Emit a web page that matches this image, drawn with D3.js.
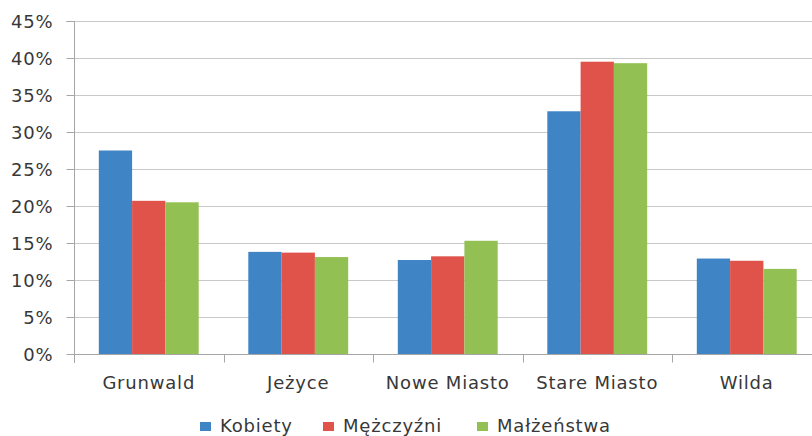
<!DOCTYPE html>
<html>
<head>
<meta charset="utf-8">
<script src="https://cdn.jsdelivr.net/npm/d3@7"></script>
<style>
  body { margin: 0; background: #fff; }
  text { font-family: "DejaVu Sans", sans-serif; fill: #383838; letter-spacing: 0.8px; }
</style>
</head>
<body>
<div id="chart"></div>
<script>
const districts = ["Grunwald", "Jeżyce", "Nowe Miasto", "Stare Miasto", "Wilda"];
const seriesNames = ["Kobiety", "Mężczyźni", "Małżeństwa"];
const kobiety = [27.5, 13.8, 12.7, 32.8, 12.9];
const mezczyzni = [20.7, 13.7, 13.2, 39.5, 12.6];
const malzenstwa = [20.5, 13.1, 15.3, 39.3, 11.5];
const yTicks = [0, 5, 10, 15, 20, 25, 30, 35, 40, 45];
const colors = ["#3f84c5", "#e0534b", "#93c053"];

const values = [kobiety, mezczyzni, malzenstwa];
const rows = districts.map((d, i) => ({
  district: d,
  vals: seriesNames.map((s, j) => ({ series: s, value: values[j][i] }))
}));

const width = 812, height = 436;
const svg = d3.select("#chart")
  .append("svg")
  .attr("width", width)
  .attr("height", height);

const plotLeft = 74, plotBottom = 354, plotTop = 21;
const step = 149.5;

const x0 = d3.scaleBand()
  .domain(districts)
  .range([plotLeft, plotLeft + step * districts.length])
  .paddingInner(0)
  .paddingOuter(0);

const x1 = d3.scaleBand()
  .domain(seriesNames)
  .range([0, x0.bandwidth()])
  .paddingInner(0)
  .paddingOuter(0.745);

const y = d3.scaleLinear()
  .domain([0, 45])
  .range([plotBottom, plotTop]);

// gridlines
svg.append("g")
  .selectAll("line")
  .data(yTicks.filter((t) => t > 0))
  .join("line")
  .attr("x1", plotLeft)
  .attr("x2", width)
  .attr("y1", (d) => y(d) + 0.5)
  .attr("y2", (d) => y(d) + 0.5)
  .attr("stroke", "#c9c9c9")
  .attr("stroke-width", 1.2);

// bars
svg.append("g")
  .selectAll("g")
  .data(rows)
  .join("g")
  .attr("transform", (d) => `translate(${x0(d.district)},0)`)
  .selectAll("rect")
  .data((d) => d.vals)
  .join("rect")
  .attr("x", (d) => x1(d.series))
  .attr("width", x1.bandwidth())
  .attr("y", (d) => y(d.value))
  .attr("height", (d) => y(0) - y(d.value))
  .attr("fill", (d, i) => colors[i]);

// y axis
const yAxis = d3.axisLeft(y)
  .tickValues(yTicks)
  .tickSize(8)
  .tickPadding(13)
  .tickFormat((d) => d + "%");

const yg = svg.append("g")
  .attr("transform", `translate(${plotLeft + 0.5},0)`)
  .call(yAxis);
yg.select(".domain").attr("d", `M-8,${y(45) + 0.5}H0V${plotBottom + 9}`).attr("stroke", "#a6a6a6");
yg.selectAll(".tick line").attr("stroke", "#a6a6a6");
yg.selectAll(".tick text")
  .style("font-size", "18px")
  .attr("dy", "0.36em");

// x axis
const xg = svg.append("g")
  .attr("transform", `translate(0,${plotBottom + 0.5})`);
xg.append("line")
  .attr("x1", plotLeft)
  .attr("x2", width)
  .attr("stroke", "#a6a6a6");
xg.selectAll(".xtick")
  .data(districts.slice(1))
  .join("line")
  .attr("class", "xtick")
  .attr("x1", (d) => Math.round(x0(d)) + 0.5)
  .attr("x2", (d) => Math.round(x0(d)) + 0.5)
  .attr("y1", 0)
  .attr("y2", 8)
  .attr("stroke", "#a6a6a6");
xg.selectAll(".xlabel")
  .data(districts)
  .join("text")
  .attr("class", "xlabel")
  .attr("x", (d) => x0(d) + x0.bandwidth() / 2)
  .attr("y", 34)
  .attr("text-anchor", "middle")
  .style("font-size", "18px")
  .text((d) => d);

// legend
const legendX = [200, 323, 477];
const legend = svg.append("g");
const items = legend.selectAll("g")
  .data(seriesNames)
  .join("g")
  .attr("transform", (d, i) => `translate(${legendX[i]},0)`);
items.append("rect")
  .attr("y", 422)
  .attr("width", 11)
  .attr("height", 9)
  .attr("fill", (d, i) => colors[i]);
items.append("text")
  .attr("x", 20)
  .attr("y", 432)
  .style("font-size", "18px")
  .text((d) => d);
</script>
</body>
</html>
